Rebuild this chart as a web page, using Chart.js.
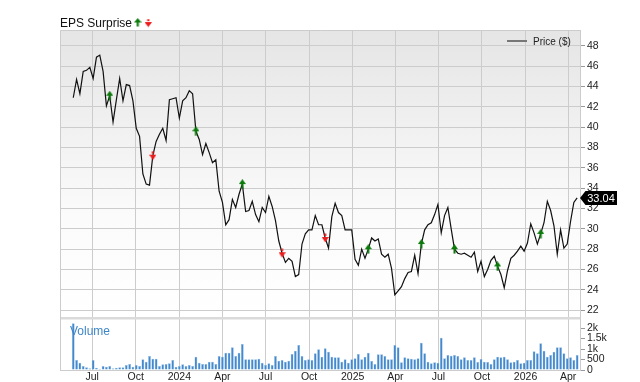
<!DOCTYPE html>
<html>
<head>
<meta charset="utf-8">
<script src="https://cdn.jsdelivr.net/npm/chart.js@4.4.1/dist/chart.umd.min.js"></script>
<style>
  html, body { margin: 0; padding: 0; background: #fff; }
  #wrap { position: relative; width: 640px; height: 382px; }
</style>
</head>
<body>
<div id="wrap"><canvas id="chart" width="640" height="382"></canvas></div>
<script>
"use strict";
// Weekly closes + weekly volume (thousands), EPS surprise markers on the price line.

const FIRST_WEEK = "2023-05-22";
const X_MIN = "2023-04-24";
const X_MAX = "2026-04-26";

const priceSeries = [
  42.9, 44.7, 43.3, 45.5, 45.6, 45.9, 44.8, 46.9, 47.1, 45.5,
  42.1, 43.1, 40.5, 42.7, 44.8, 42.6, 44.2, 44.1, 42.6, 39.9,
  39.1, 35.4, 34.4, 34.3, 37.2, 38.6, 39.3, 39.9, 38.7, 42.7,
  42.8, 42.9, 40.9, 42.6, 42.9, 43.6, 43.3, 39.6, 38.8, 37.3,
  38.4, 37.5, 36.5, 36.8, 33.7, 32.6, 30.4, 30.9, 32.9, 32.1,
  33.4, 34.4, 31.7, 31.8, 32.7, 31.4, 30.7, 32.1, 31.6, 33.2,
  32.2, 30.8, 28.8, 27.6, 26.7, 27.1, 26.8, 25.3, 25.5, 28.5,
  29.5, 29.9, 29.9, 31.3, 30.4, 30.4, 29.1, 28.1, 31.2, 32.5,
  31.6, 31.3, 29.9, 29.9, 29.9, 27.0, 26.4, 28.0, 27.1, 28.0,
  29.1, 28.8, 29.0, 27.5, 27.2, 27.5, 26.1, 23.5, 23.9, 24.3,
  25.1, 25.7, 25.8, 27.4, 25.6, 28.5, 29.9, 30.4, 30.6, 31.4,
  32.4, 29.6, 31.3, 32.1, 30.0, 28.0, 27.6, 27.5, 27.6, 27.4,
  27.2, 27.7, 25.8, 26.8, 25.3, 26.0, 26.9, 27.3, 26.3, 25.5,
  24.2, 25.9, 27.1, 27.4, 27.8, 28.3, 27.8, 28.6, 30.5, 29.6,
  28.5, 29.5, 30.6, 32.7, 31.8, 30.3, 27.5, 29.9, 28.1, 28.5,
  30.7, 32.6, 33.04
];

const volumeSeries = [
  2222, 476, 349, 190, 127, 80, 476, 111, 63, 190,
  159, 190, 80, 111, 127, 127, 238, 286, 159, 238,
  190, 508, 397, 667, 540, 540, 190, 270, 286, 317,
  476, 159, 190, 270, 190, 238, 190, 635, 349, 286,
  286, 397, 397, 286, 667, 635, 825, 825, 1079, 667,
  825, 1238, 508, 508, 508, 508, 540, 349, 238, 317,
  238, 667, 444, 476, 397, 444, 762, 921, 1190, 667,
  476, 508, 476, 794, 984, 635, 1032, 873, 635, 603,
  603, 397, 508, 349, 508, 556, 762, 508, 635, 825,
  429, 286, 746, 746, 667, 508, 508, 1190, 1079, 365,
  603, 556, 540, 508, 556, 1302, 794, 397, 317, 365,
  349, 1540, 556, 714, 683, 714, 667, 508, 603, 476,
  476, 603, 381, 524, 397, 381, 286, 508, 635, 603,
  635, 508, 365, 397, 476, 317, 349, 476, 476, 889,
  794, 1270, 921, 635, 714, 873, 1079, 1079, 794, 556,
  603, 476, 714
];

// week index of each earnings report, by direction of the surprise
const surpriseUp = [11, 37, 51, 89, 105, 115, 128, 141];
const surpriseDown = [24, 63, 76];

const monthTicks = [
  "2023-07-01", "2023-10-01", "2024-01-01", "2024-04-01", "2024-07-01", "2024-10-01",
  "2025-01-01", "2025-04-01", "2025-07-01", "2025-10-01", "2026-01-01", "2026-04-01"
];
const monthLabels = ["Jul", "Oct", "2024", "Apr", "Jul", "Oct", "2025", "Apr", "Jul", "Oct", "2026", "Apr"];

const priceTicks = [22, 24, 26, 28, 30, 32, 34, 36, 38, 40, 42, 44, 46, 48];
const volumeTicks = [0, 500, 1000, 1500, 2000];
const volumeTickLabels = ["0", "500", "1k", "1.5k", "2k"];

const FONT = "'Liberation Sans', Arial, Helvetica, sans-serif";
const GRID = "#cccccc";
const UP_GREEN = "#0b7a0b";
const DOWN_RED = "#ee1b1b";

const DAY = 86400000;
const day = (s) => (Date.parse(s) - Date.parse(FIRST_WEEK)) / DAY;
const weekX = (i) => 7 * i;

function arrowImage(color, up) {
  const c = document.createElement("canvas");
  c.width = 7; c.height = 10;
  const g = c.getContext("2d");
  g.fillStyle = color;
  g.beginPath();
  if (up) {
    g.moveTo(3.5, 0); g.lineTo(7, 5); g.lineTo(0, 5); g.closePath(); g.fill();
    g.fillRect(2.5, 5, 2, 4.5);
  } else {
    g.fillRect(2.5, 0.5, 2, 2.5);
    g.moveTo(0, 4); g.lineTo(7, 4); g.lineTo(3.5, 9.5); g.closePath(); g.fill();
  }
  return c;
}
const upArrow = arrowImage(UP_GREEN, true);
const downArrow = arrowImage(DOWN_RED, false);

const decor = {
  id: "decor",
  beforeDraw(chart) {
    const { ctx, chartArea: a, scales } = chart;
    const y = scales.y, v = scales.v;
    ctx.save();
    const grad = ctx.createLinearGradient(0, y.top, 0, y.bottom);
    grad.addColorStop(0, "#e5e5e5");
    grad.addColorStop(0.65, "#fbfbfb");
    grad.addColorStop(1, "#ffffff");
    ctx.fillStyle = grad;
    ctx.fillRect(a.left, y.top, a.right - a.left, y.bottom - y.top);
    ctx.fillStyle = "#ffffff";
    ctx.fillRect(a.left, v.top, a.right - a.left, v.bottom - v.top);
    ctx.restore();
  },
  afterDatasetsDraw(chart) {
    const { ctx, chartArea: a, scales } = chart;
    const v = scales.v, y = scales.y;
    ctx.save();
    // panel separator
    ctx.fillStyle = "#dadada";
    ctx.fillRect(a.left, v.top, a.right - a.left, 2.5);
    // top / left frame
    ctx.strokeStyle = GRID; ctx.lineWidth = 1;
    ctx.beginPath();
    ctx.moveTo(a.left + 0.5, a.bottom); ctx.lineTo(a.left + 0.5, a.top + 0.5); ctx.lineTo(a.right, a.top + 0.5);
    ctx.stroke();
    // volume caption
    ctx.fillStyle = "#3f86c8";
    ctx.font = "12px " + FONT;
    ctx.textBaseline = "alphabetic";
    ctx.fillText("Volume", 70, 334.5);
    // price legend
    ctx.strokeStyle = "#777"; ctx.lineWidth = 2;
    ctx.beginPath(); ctx.moveTo(507, 41); ctx.lineTo(527, 41); ctx.stroke();
    ctx.fillStyle = "#222"; ctx.font = "10px " + FONT;
    ctx.fillText("Price ($)", 533, 45);
    // EPS surprise legend
    ctx.fillStyle = "#111"; ctx.font = "12px " + FONT;
    ctx.fillText("EPS Surprise", 60, 27);
    ctx.drawImage(upArrow, 134, 18, 7.5, 9);
    ctx.drawImage(downArrow, 144.5, 18.5, 7.5, 9);
    // last price badge
    const last = priceSeries[priceSeries.length - 1];
    const py = Math.round(y.getPixelForValue(last));
    ctx.fillStyle = "#000";
    ctx.beginPath();
    ctx.moveTo(580, py); ctx.lineTo(585.5, py - 7); ctx.lineTo(617, py - 7);
    ctx.lineTo(617, py + 7); ctx.lineTo(585.5, py + 7); ctx.closePath(); ctx.fill();
    ctx.fillStyle = "#fff"; ctx.font = "11px " + FONT;
    ctx.textAlign = "center"; ctx.textBaseline = "middle";
    ctx.fillText(last.toFixed(2), 601, py + 0.5);
    ctx.restore();
  }
};

Chart.defaults.font.family = FONT;
Chart.defaults.color = "#222";

new Chart(document.getElementById("chart"), {
  type: "line",
  data: {
    datasets: [
      {
        type: "scatter", label: "surprise up", yAxisID: "y",
        data: surpriseUp.map(i => ({ x: weekX(i), y: priceSeries[i] })),
        pointStyle: upArrow, pointRadius: 4, order: 0,
      },
      {
        type: "scatter", label: "surprise down", yAxisID: "y",
        data: surpriseDown.map(i => ({ x: weekX(i), y: priceSeries[i] })),
        pointStyle: downArrow, pointRadius: 4, order: 0,
      },
      {
        type: "line", label: "Price ($)", yAxisID: "y",
        data: priceSeries.map((p, i) => ({ x: weekX(i), y: p })),
        borderColor: "#111", borderWidth: 1.2, pointRadius: 0, tension: 0, order: 1,
      },
      {
        type: "bar", label: "Volume", yAxisID: "v",
        data: volumeSeries.map((q, i) => ({ x: weekX(i), y: q })),
        backgroundColor: "#4589cc", borderColor: "#94c0e8", borderWidth: 0.5, borderSkipped: "bottom",
        barPercentage: 0.85, categoryPercentage: 1, order: 2,
      },
    ],
  },
  options: {
    responsive: false, animation: false, devicePixelRatio: 1,
    layout: { padding: { left: 60, top: 30, right: 0, bottom: 0 } },
    plugins: { legend: { display: false }, tooltip: { enabled: false } },
    scales: {
      x: {
        type: "linear", min: day(X_MIN), max: day(X_MAX), offset: false,
        afterBuildTicks: (s) => { s.ticks = monthTicks.map(t => ({ value: day(t) })); },
        afterFit: (s) => { s.height = 12; },
        ticks: { autoSkip: false, maxRotation: 0, padding: 1, font: { size: 10.5 }, color: "#222",
          callback: (val, i) => monthLabels[i] },
        grid: { color: GRID, tickLength: 0, offset: false },
        border: { color: GRID },
      },
      y: {
        type: "linear", position: "right", stack: "panels", stackWeight: 287,
        min: 21.32, max: 49.57,
        afterBuildTicks: (s) => { s.ticks = priceTicks.map(t => ({ value: t })); },
        afterFit: (s) => { s.width = 60; },
        ticks: { autoSkip: false, padding: 2, font: { size: 10.5 }, color: "#222", callback: (val) => String(val) },
        grid: { color: GRID, tickColor: "#999", tickLength: 5 },
        border: { color: GRID },
      },
      v: {
        type: "linear", position: "right", stack: "panels", stackWeight: 53,
        min: 0, max: 2524,
        afterBuildTicks: (s) => { s.ticks = volumeTicks.map(t => ({ value: t })); },
        afterFit: (s) => { s.width = 60; },
        ticks: { autoSkip: false, padding: 2, font: { size: 10.5 }, color: "#222", callback: (val, i) => volumeTickLabels[i] },
        grid: { drawOnChartArea: false, tickColor: "#999", tickLength: 5 },
        border: { color: GRID },
      },
    },
  },
  plugins: [decor],
});
</script>
</body>
</html>
